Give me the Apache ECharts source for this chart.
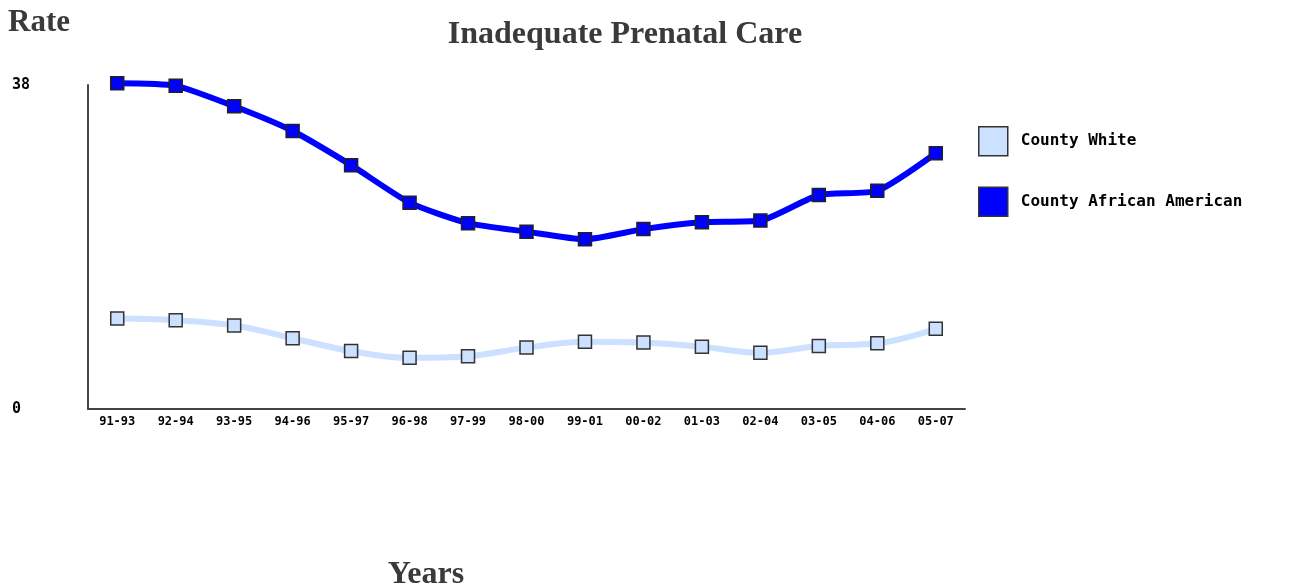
<!DOCTYPE html>
<html><head><meta charset="utf-8">
<script src="https://cdn.jsdelivr.net/npm/echarts@6/dist/echarts.min.js"></script>
<style>html,body{margin:0;padding:0;background:#fff}#c{width:1291px;height:588px}</style>
</head><body><div id="c"></div>
<script>
const categories = ['91-93','92-94','93-95','94-96','95-97','96-98','97-99','98-00','99-01','00-02','01-03','02-04','03-05','04-06','05-07'];
const whiteValues = [10.6,10.4,9.8,8.3,6.8,6.0,6.2,7.2,7.9,7.8,7.3,6.6,7.4,7.7,9.4];
const africanAmericanValues = [38.2,37.9,35.5,32.6,28.6,24.2,21.8,20.8,19.9,21.1,21.9,22.1,25.1,25.6,30.0];
const yTicks = [0, 38];

const chart = echarts.init(document.getElementById('c'), null, {renderer:'canvas'});
const serifBold = {fontFamily:'Liberation Serif', fontWeight:'bold', fontSize:32, color:'#3a3a3a'};
chart.setOption({
  animation:false,
  backgroundColor:'#fff',
  title:[
    {text:'Inadequate Prenatal Care', left:620, top:14, textAlign:'center', textStyle:serifBold},
    {text:'Rate', left:3, top:2, textStyle:Object.assign({}, serifBold, {fontSize:31})},
    {text:'Years', left:421, top:554, textAlign:'center', textStyle:serifBold}
  ],
  legend:{
    orient:'vertical', left:973, top:121, itemWidth:29, itemHeight:29, itemGap:30,
    icon:'rect',
    textStyle:{fontFamily:'DejaVu Sans Mono', fontWeight:'bold', fontSize:16, color:'#000', padding:[3,0,0,8]},
    data:[
      {name:'County White', itemStyle:{color:'#cce0ff', borderColor:'#333', borderWidth:1.5}},
      {name:'County African American', itemStyle:{color:'#0000ff', borderColor:'#333', borderWidth:1.5}}
    ]
  },
  grid:{left:88, top:85, width:877, height:324, containLabel:false},
  xAxis:{
    type:'category', data:categories, boundaryGap:true,
    axisLine:{lineStyle:{color:'#444', width:2}},
    axisTick:{show:false},
    axisLabel:{margin:7, interval:0, fontFamily:'DejaVu Sans Mono', fontWeight:'bold', fontSize:12, color:'#000'},
    splitLine:{show:false}
  },
  yAxis:{
    type:'value', min:0, max:38, interval:38,
    axisLine:{show:true, lineStyle:{color:'#444', width:2}},
    axisTick:{show:false},
    splitLine:{show:false},
    axisLabel:{margin:76, align:'left', customValues:yTicks, fontFamily:'DejaVu Sans Mono', fontWeight:'bold', fontSize:15, color:'#000'}
  },
  series:[
    {name:'County White', type:'line', data:whiteValues, smooth:0.4, clip:false,
     lineStyle:{color:'#cce0ff', width:6},
     itemStyle:{color:'#cce0ff', borderColor:'#333', borderWidth:1.5},
     symbol:'rect', symbolSize:13, z:2},
    {name:'County African American', type:'line', data:africanAmericanValues, smooth:0.2, clip:false,
     lineStyle:{color:'#0000ff', width:6},
     itemStyle:{color:'#0000ff', borderColor:'#222', borderWidth:1.5},
     symbol:'rect', symbolSize:13, z:3}
  ]
});
</script></body></html>
